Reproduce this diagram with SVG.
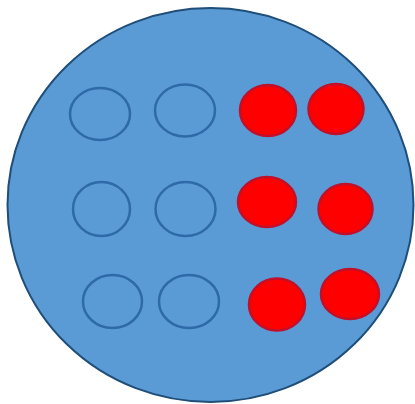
<svg xmlns="http://www.w3.org/2000/svg" width="415" height="404" viewBox="0 0 415 404">
<style>
.big{fill:#5b9bd5;stroke:#1f4e79;stroke-width:2}
.o{fill:none;stroke:#2e6aa8;stroke-width:2.5}
.r{fill:#ff0000;stroke:#c0102a;stroke-width:2.5}
</style>
<rect width="415" height="404" fill="#ffffff"/>
<g id="plate"><ellipse class="big" cx="210.5" cy="205" rx="203" ry="197"/></g>
<g id="o1"><ellipse class="o" cx="100" cy="114" rx="30" ry="26"/></g>
<g id="o2"><ellipse class="o" cx="185" cy="110.5" rx="30" ry="26"/></g>
<g id="r1"><ellipse class="r" cx="268" cy="110.5" rx="28" ry="25.5"/></g>
<g id="r2"><ellipse class="r" cx="336" cy="109" rx="27.5" ry="25"/></g>
<g id="o3"><ellipse class="o" cx="101.5" cy="209" rx="28.5" ry="27"/></g>
<g id="o4"><ellipse class="o" cx="185.5" cy="209" rx="30" ry="27"/></g>
<g id="r3"><ellipse class="r" cx="267" cy="202" rx="29" ry="25"/></g>
<g id="r4"><ellipse class="r" cx="345.5" cy="209" rx="27" ry="25"/></g>
<g id="o5"><ellipse class="o" cx="112.5" cy="301.5" rx="29.5" ry="26.5"/></g>
<g id="o6"><ellipse class="o" cx="189" cy="301.5" rx="30" ry="26.5"/></g>
<g id="r5"><ellipse class="r" cx="277" cy="304.5" rx="28" ry="26"/></g>
<g id="r6"><ellipse class="r" cx="350" cy="294" rx="29" ry="25"/></g>
<g id="connectors"></g>
</svg>
